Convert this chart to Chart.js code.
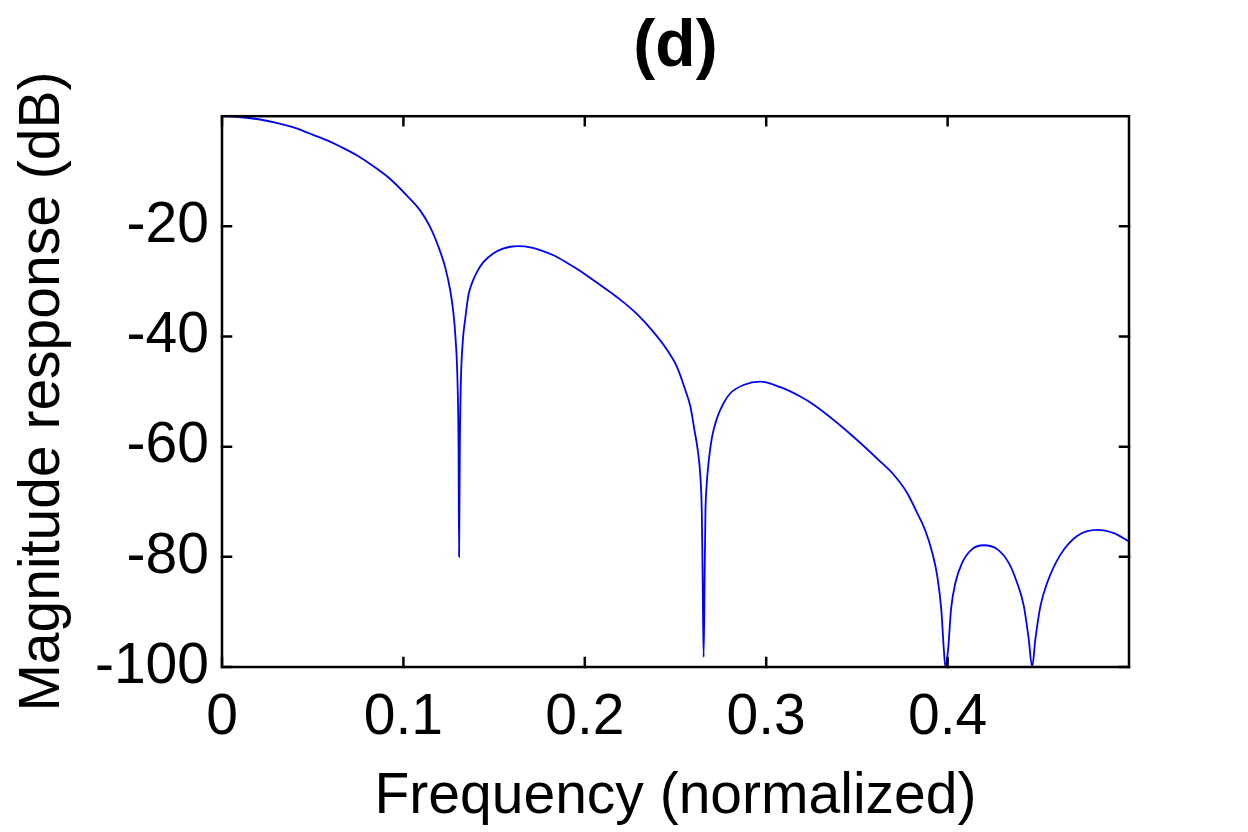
<!DOCTYPE html>
<html>
<head>
<meta charset="utf-8">
<title>(d) Magnitude response</title>
<script src="https://cdn.jsdelivr.net/npm/chart.js@4/dist/chart.umd.min.js"></script>
<style>
    html, body { margin: 0; padding: 0; background: #fff; }
    #wrap { width: 1248px; height: 832px; position: relative; }
</style>
</head>
<body>
<div id="wrap"><canvas id="response-chart"></canvas></div>
<script>
// normalized frequency (x) and magnitude in dB (y)
const freq = [
    0.000, 0.008, 0.021, 0.030, 0.039, 0.048, 0.058, 0.0651, 0.0743, 0.0835,
    0.0927, 0.1019, 0.1092, 0.1147, 0.1193, 0.1230, 0.1258, 0.1276, 0.1288, 0.1298,
    0.1304, 0.1307, 0.1311, 0.1317, 0.1328, 0.1340, 0.1359, 0.1377, 0.1405, 0.1441,
    0.1497, 0.1545, 0.1589, 0.1634, 0.1700, 0.1754, 0.1830, 0.1901, 0.1975, 0.2048,
    0.2195, 0.2287, 0.2379, 0.2453, 0.2508, 0.2554, 0.2582, 0.2604, 0.2622, 0.2637,
    0.2645, 0.2650, 0.2655, 0.2660, 0.2665, 0.2670, 0.2682, 0.2701, 0.2729, 0.2765,
    0.2802, 0.2875, 0.2967, 0.3078, 0.3188, 0.3262, 0.3446, 0.3629, 0.3703, 0.3777,
    0.3832, 0.3878, 0.3915, 0.3943, 0.3965, 0.3979, 0.3988, 0.4003, 0.4019, 0.4043,
    0.4080, 0.4135, 0.4199, 0.4273, 0.4337, 0.4383, 0.4420, 0.4447, 0.4466, 0.4484,
    0.4512, 0.4549, 0.4622, 0.4714, 0.4825, 0.4916, 0.5000
];
const magDb = [
    0.0, -0.1, -0.6, -1.2, -2.0, -3.1, -4.4, -5.5, -7.1, -9.1,
    -11.4, -14.4, -17.1, -20.1, -23.7, -27.4, -31.6, -35.8, -40.6, -47.9,
    -60.0, -80.0, -60.0, -48.0, -40.6, -37.0, -32.4, -30.4, -28.3, -26.5,
    -24.9, -24.1, -23.7, -23.6, -23.8, -24.3, -25.3, -26.6, -28.1, -29.8,
    -33.3, -35.9, -39.2, -42.4, -45.5, -49.7, -52.7, -56.9, -60.5, -65.4,
    -72.0, -85.0, -98.2, -85.0, -72.0, -67.8, -63.0, -58.3, -54.8, -52.1,
    -50.3, -48.8, -48.2, -49.2, -50.9, -52.4, -57.2, -62.7, -65.1, -68.4,
    -72.0, -75.3, -79.2, -83.5, -89.5, -96.7, -100, -96.7, -89.5, -84.7,
    -81.1, -78.6, -77.9, -78.6, -81.1, -84.7, -88.9, -94.9, -100, -94.9,
    -88.9, -84.7, -79.6, -76.2, -75.1, -75.7, -77.2
];
const xTicks = [0, 0.1, 0.2, 0.3, 0.4];
const yTicks = [-100, -80, -60, -40, -20];

const FONT = "'Liberation Sans', Arial, Helvetica, sans-serif";
Chart.defaults.font.family = FONT;
Chart.defaults.color = '#000';

// MATLAB style box with inward ticks on all four sides
const boxTicks = {
    id: 'boxTicks',
    afterDatasetsDraw(chart) {
        const { ctx, chartArea: a, scales } = chart;
        const len = 9;
        ctx.save();
        ctx.strokeStyle = '#000';
        ctx.lineWidth = 2.5;
        ctx.lineCap = 'square';
        ctx.strokeRect(a.left, a.top, a.right - a.left, a.bottom - a.top);
        ctx.beginPath();
        xTicks.forEach(v => {
            const px = scales.x.getPixelForValue(v);
            ctx.moveTo(px, a.bottom);
            ctx.lineTo(px, a.bottom - len);
            ctx.moveTo(px, a.top);
            ctx.lineTo(px, a.top + len);
        });
        yTicks.forEach(v => {
            const py = scales.y.getPixelForValue(v);
            ctx.moveTo(a.left, py);
            ctx.lineTo(a.left + len, py);
            ctx.moveTo(a.right, py);
            ctx.lineTo(a.right - len, py);
        });
        ctx.stroke();
        ctx.restore();
    }
};

const ctx = document.getElementById('response-chart').getContext('2d');
new Chart(ctx, {
    type: 'line',
    data: {
        datasets: [{
            label: 'Magnitude',
            data: freq.map((f, i) => ({ x: f, y: magDb[i] })),
            borderColor: '#0000ff',
            borderWidth: 1.8,
            pointRadius: 0,
            fill: false,
            cubicInterpolationMode: 'monotone'
        }]
    },
    options: {
        responsive: true,
        maintainAspectRatio: false,
        animation: false,
        layout: { padding: { top: 0, left: 0, right: 119, bottom: 0 } },
        plugins: {
            legend: { display: false },
            tooltip: { enabled: false },
            title: {
                display: true,
                text: '(d)',
                fullSize: false,
                color: '#000',
                font: { size: 66, weight: 'bold', family: FONT },
                padding: { top: 8, bottom: 29 }
            }
        },
        scales: {
            x: {
                type: 'linear',
                min: 0,
                max: 0.5,
                grid: { display: false, drawTicks: false },
                border: { display: false },
                afterBuildTicks: s => { s.ticks = xTicks.map(v => ({ value: v })); },
                afterFit: s => { s.height = 165; },
                ticks: {
                    padding: 17,
                    font: { size: 57 },
                    callback: v => String(v)
                },
                title: {
                    display: true,
                    text: 'Frequency (normalized)',
                    font: { size: 57 },
                    padding: { top: 1, bottom: 1 }
                }
            },
            y: {
                min: -100,
                max: 0,
                grid: { display: false, drawTicks: false },
                border: { display: false },
                afterBuildTicks: s => { s.ticks = yTicks.map(v => ({ value: v })); },
                afterFit: s => { s.width = 222; },
                ticks: {
                    padding: 13,
                    font: { size: 57 },
                    callback: v => String(v)
                },
                title: {
                    display: true,
                    text: 'Magnitude response (dB)',
                    font: { size: 57 },
                    padding: { top: 9, bottom: 0 }
                }
            }
        }
    },
    plugins: [boxTicks]
});
</script>
</body>
</html>
